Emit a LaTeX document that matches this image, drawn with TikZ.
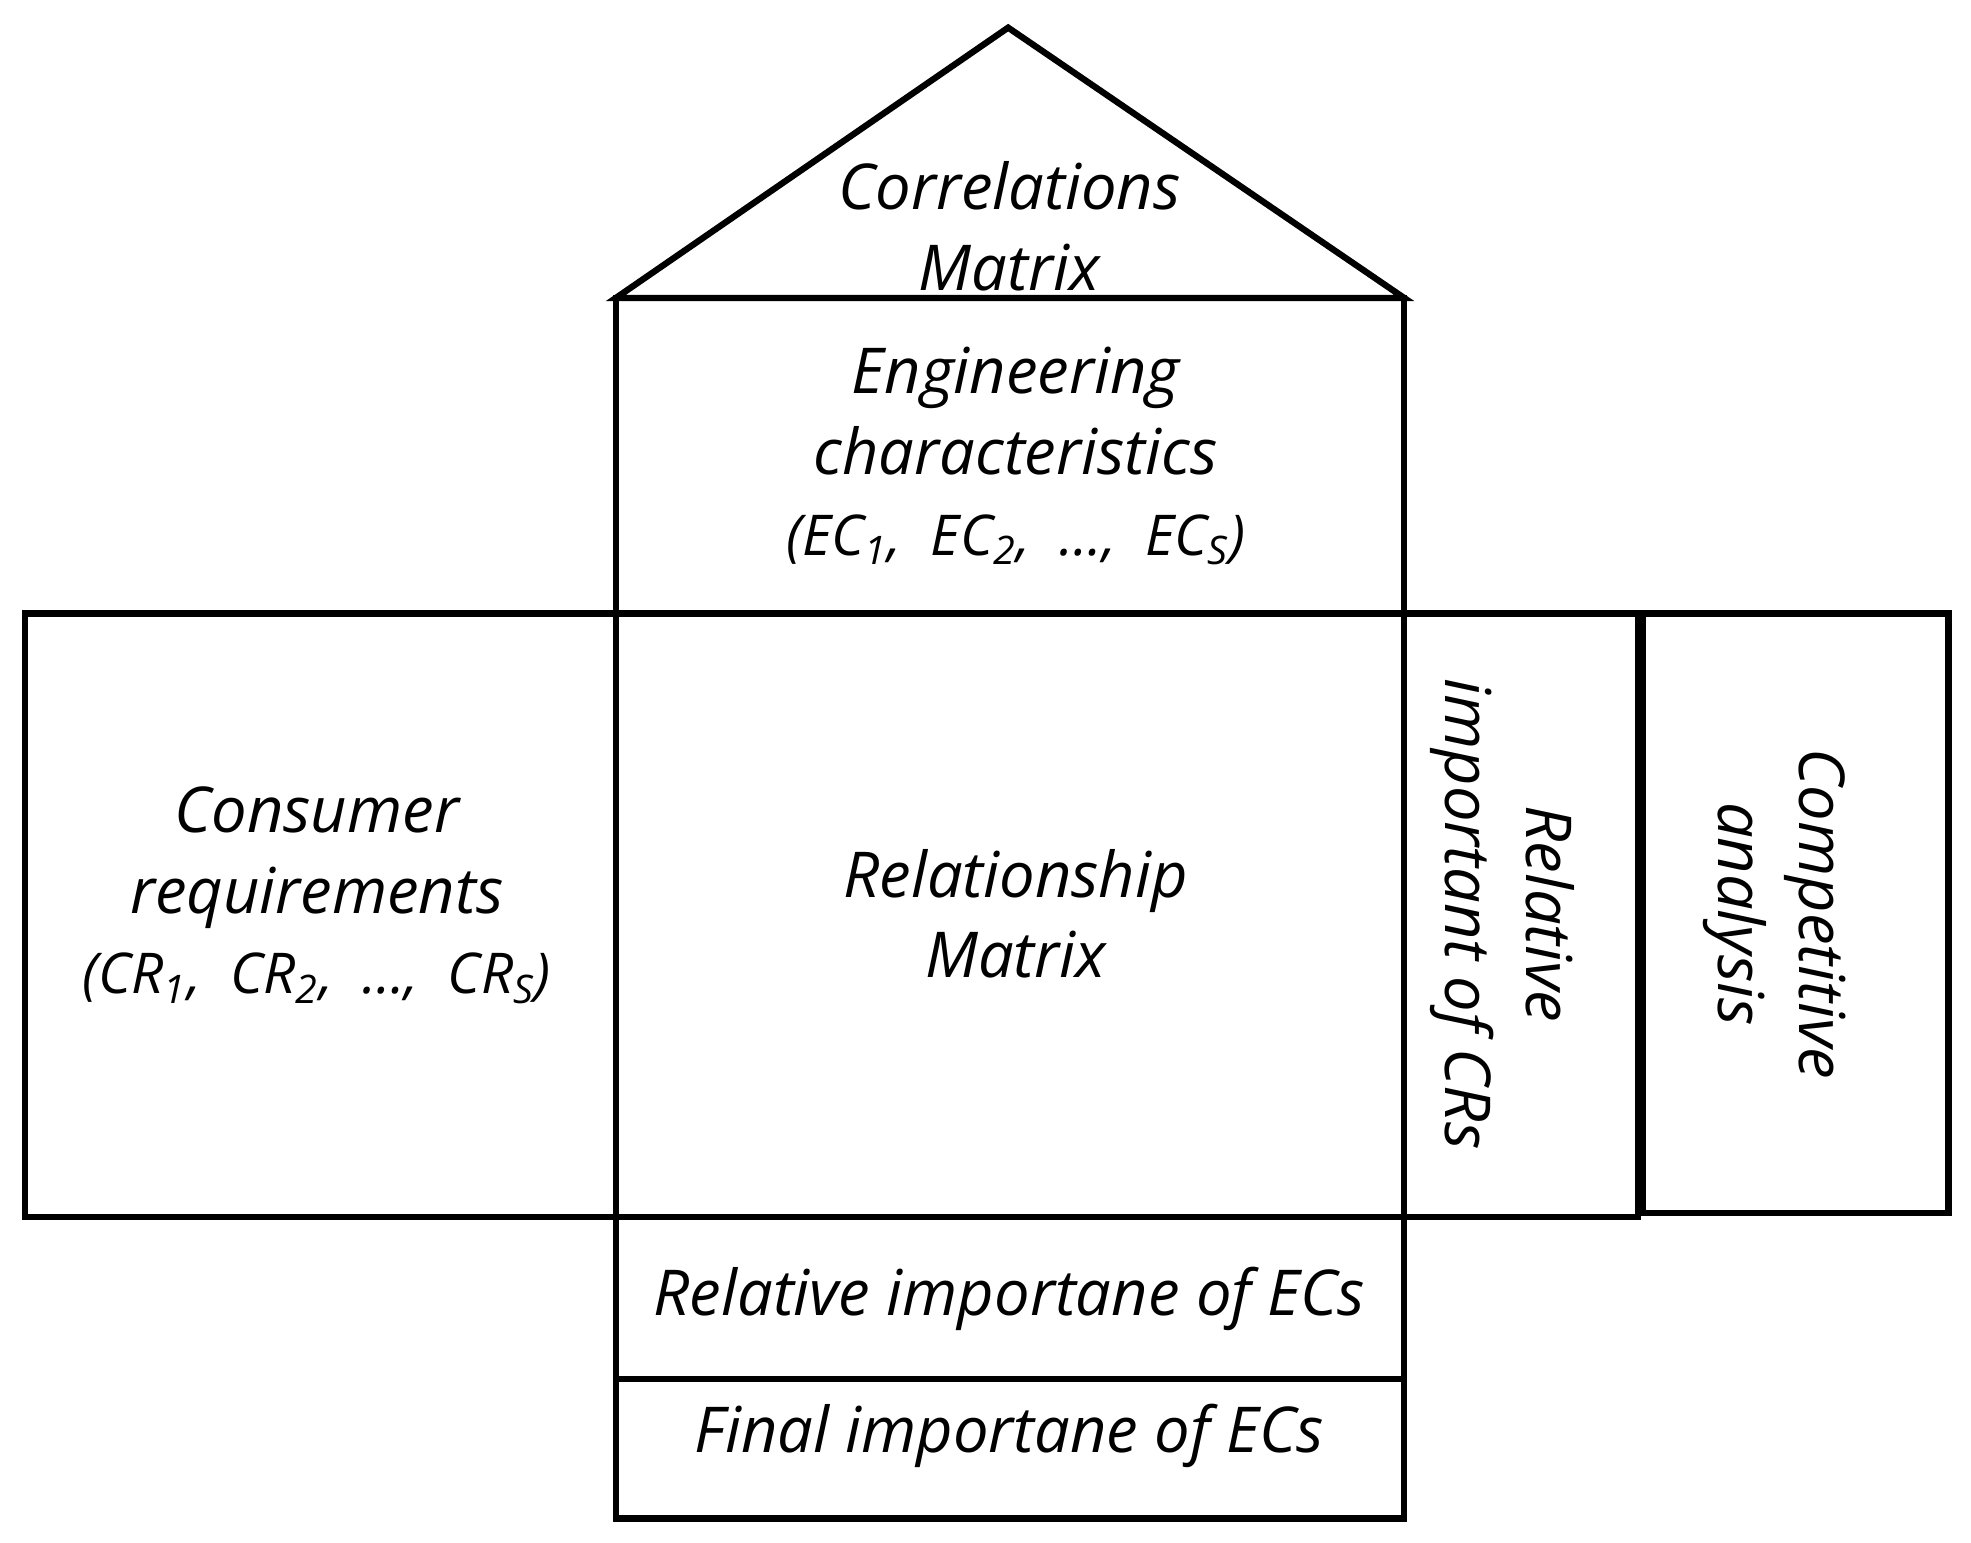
\documentclass[tikz,border=0pt]{standalone}
\usepackage{fontspec}
\setmainfont{Open Sans}
\begin{document}
\begin{tikzpicture}[x=0.012571cm,y=-0.012571cm,
  box/.style={draw,line width=1.8pt},
  lbl/.style={font=\itshape\fontsize{18}{23}\selectfont,align=center}]
\useasboundingbox (0,0) rectangle (1568,1227);
\draw[box,line join=miter] (490,237) -- (802,22) -- (1117,237) -- cycle;
\draw[box] (490,237) rectangle (1117,488);
\draw[box] (20,488) rectangle (490,968);
\draw[box] (490,488) rectangle (1117,968);
\draw[box] (1117,488) rectangle (1303,968);
\draw[box] (1307,488) rectangle (1550,965);
\draw[box] (490,968) rectangle (1117,1097);
\draw[box] (490,1097) rectangle (1117,1208);
\node[lbl] (corr) at (803,180) {Correlations\\Matrix};
\node[lbl] (ec) at (808,363) {Engineering\\characteristics\\{\fontsize{16}{23}\selectfont(EC\textsubscript{1},\ \ EC\textsubscript{2},\ \ \ldots,\ \ EC\textsubscript{S})}};
\node[lbl] (cr) at (252,712) {Consumer\\requirements\\{\fontsize{16}{23}\selectfont(CR\textsubscript{1},\ \ CR\textsubscript{2},\ \ \ldots,\ \ CR\textsubscript{S})}};
\node[lbl] (rm) at (808,727) {Relationship\\Matrix};
\node[lbl,rotate=-90] (ri) at (1195,727) {Relative\\important of CRs};
\node[lbl,rotate=-90] (ca) at (1412,727) {Competitive\\analysis};
\node[lbl] (rie) at (803,1033) {Relative importane of ECs};
\node[lbl] (fie) at (803,1142) {Final importane of ECs};
\end{tikzpicture}
\end{document}
